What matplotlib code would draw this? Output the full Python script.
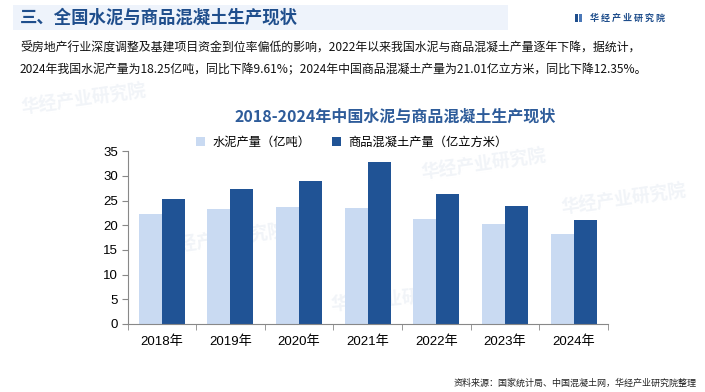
import matplotlib
matplotlib.use("Agg")
import matplotlib.pyplot as plt
import numpy as np
from matplotlib.patches import Rectangle

plt.rcParams['font.family'] = ['Liberation Sans', 'Noto Sans CJK SC', 'DejaVu Sans']

years = ["2018年", "2019年", "2020年", "2021年", "2022年", "2023年", "2024年"]
cement = [22.3, 23.3, 23.8, 23.6, 21.3, 20.2, 18.25]
concrete = [25.4, 27.4, 29.0, 32.9, 26.4, 24.0, 21.01]
series_names = ["水泥产量（亿吨）", "商品混凝土产量（亿立方米）"]

light = "#c9daf2"
dark = "#205395"
cjk = ['Noto Sans CJK SC', 'DejaVu Sans']

fig = plt.figure(figsize=(7.05, 3.92), dpi=100)
W, H = 705, 392

def fx(x):
    return x / W

def fy(y):
    return 1 - y / H

# header band
fig.patches.append(Rectangle((fx(13), fy(30)), fx(495), 25 / H, transform=fig.transFigure,
                             facecolor="#eef3fb", edgecolor="none", zorder=-2))
fig.text(fx(20), fy(18), "三、全国水泥与商品混凝土生产现状", family=cjk, fontsize=12.5,
         fontweight="bold", color="#1f4e8c", va="center")
fig.patches.append(Rectangle((fx(575), fy(22)), fx(3), 8 / H, transform=fig.transFigure,
                             facecolor="#1f4e8c", edgecolor="none"))
fig.patches.append(Rectangle((fx(579), fy(22)), fx(3), 8 / H, transform=fig.transFigure,
                             facecolor="#4a78b8", edgecolor="none"))
fig.text(fx(590), fy(18), "华 经 产 业 研 究 院", family=cjk, fontsize=6.5,
         fontweight="bold", color="#1f4e8c", va="center")

# paragraph
fig.text(fx(20), fy(48), "受房地产行业深度调整及基建项目资金到位率偏低的影响，2022年以来我国水泥与商品混凝土产量逐年下降，据统计，",
         family=cjk, fontsize=8.6, color="#111111", va="center")
fig.text(fx(20), fy(70), "2024年我国水泥产量为18.25亿吨，同比下降9.61%；2024年中国商品混凝土产量为21.01亿立方米，同比下降12.35%。",
         family=cjk, fontsize=8.6, color="#111111", va="center")

# faint watermarks, behind everything
for (wx, wy, rot) in [(20, 100, 8), (160, 240, 8), (420, 165, 8), (560, 200, 8), (330, 300, 5)]:
    fig.text(fx(wx), fy(wy), "华经产业研究院", family=cjk, fontsize=13, fontweight="bold",
             color="#f1f4f8", rotation=rot, va="center", zorder=-1)

# chart title
fig.text(fx(395), fy(117), "2018-2024年中国水泥与商品混凝土生产现状", family=cjk, fontsize=11.5,
         fontweight="bold", color="#2e5c9a", ha="center", va="center")

ax = fig.add_axes([fx(127.5), fy(324), fx(608 - 127.5), (324 - 151.3) / H])
x = np.arange(len(years))
bw = 0.335
ax.bar(x - bw / 2, cement, bw, color=light, label=series_names[0], zorder=2)
ax.bar(x + bw / 2, concrete, bw, color=dark, label=series_names[1], zorder=2)

ax.set_ylim(0, 35)
ax.set_xlim(-0.5, len(years) - 0.5)
ax.set_yticks(range(0, 36, 5))
ax.set_xticks(x)
ax.set_xticklabels(years)
ax.set_xticks(np.arange(-0.5, len(years), 1), minor=True)
ax.tick_params(axis="x", which="major", length=0, pad=8, labelsize=9.5)
ax.tick_params(axis="x", which="minor", length=4, color="#888888", direction="out")
ax.tick_params(axis="y", length=4, color="#888888", labelsize=9.5, pad=3)
for s in ["top", "right"]:
    ax.spines[s].set_visible(False)
for s in ["left", "bottom"]:
    ax.spines[s].set_color("#888888")
    ax.spines[s].set_linewidth(0.8)
ax.patch.set_alpha(0)

leg = fig.legend(loc="center", bbox_to_anchor=(fx(352), fy(142)), ncol=2, frameon=False,
                 prop={'family': cjk, 'size': 8.8}, handlelength=0.7, handleheight=0.7,
                 columnspacing=1.8, handletextpad=0.6)

fig.text(fx(697), fy(383), "资料来源：国家统计局、中国混凝土网，华经产业研究院整理", family=cjk,
         fontsize=6.5, color="#222222", ha="right", va="center")

fig.savefig("out.png", dpi=100)
